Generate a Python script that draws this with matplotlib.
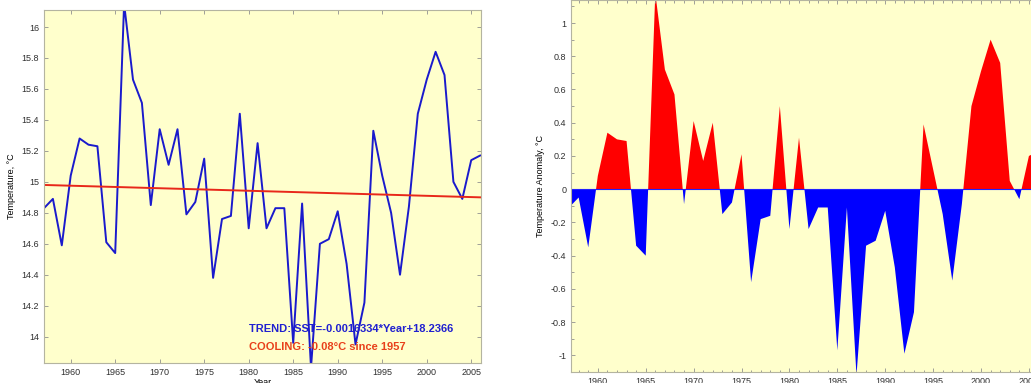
"""SST time series and anomaly panels."""

import matplotlib
matplotlib.use("Agg")
import matplotlib.pyplot as plt
import numpy as np
from matplotlib.ticker import MultipleLocator

years = list(range(1957, 2007))

sst = [14.83, 14.89, 14.59, 15.04, 15.28, 15.24, 15.23, 14.61, 14.54, 16.15,
       15.66, 15.51, 14.85, 15.34, 15.11, 15.34, 14.79, 14.87, 15.15, 14.38,
       14.76, 14.78, 15.44, 14.70, 15.25, 14.70, 14.83, 14.83, 13.96, 14.86,
       13.80, 14.60, 14.63, 14.81, 14.47, 13.95, 14.22, 15.33, 15.04, 14.80,
       14.40, 14.84, 15.44, 15.66, 15.84, 15.69, 15.00, 14.89, 15.14, 15.17]

anomaly = [-0.11, -0.05, -0.35, 0.08, 0.34, 0.30, 0.29, -0.34, -0.40, 1.18,
           0.72, 0.57, -0.09, 0.41, 0.17, 0.40, -0.15, -0.08, 0.21, -0.56,
           -0.18, -0.16, 0.50, -0.24, 0.31, -0.24, -0.11, -0.11, -0.97, -0.11,
           -1.12, -0.34, -0.31, -0.13, -0.47, -0.99, -0.74, 0.39, 0.12, -0.15,
           -0.55, -0.09, 0.50, 0.71, 0.90, 0.76, 0.05, -0.06, 0.20, 0.23]

trend_years = [1957, 2006]
trend_vals = [14.98, 14.90]

trend_text = "TREND: SST=-0.0016334*Year+18.2366"
cooling_text = "COOLING: -0.08°C since 1957"

BG = "#ffffcc"
EDGE = "#b4b4a0"
W, H = 1031, 383

plt.rcParams["font.family"] = ["Liberation Sans", "DejaVu Sans"]

fig = plt.figure(figsize=(W / 100, H / 100), dpi=100)
fig.patch.set_facecolor("white")


def style(ax):
    ax.set_facecolor(BG)
    for s in ax.spines.values():
        s.set_color(EDGE)
        s.set_linewidth(0.8)
    ax.tick_params(direction="in", which="both", top=True, right=True,
                   labelsize=6.5, colors="#303030", length=3, width=0.6)
    ax.tick_params(which="both", color="#909090")
    ax.tick_params(which="minor", length=1.8)


# --- left panel: temperature with trend
ax1 = fig.add_axes([44 / W, 1 - 363 / H, 437 / W, 353 / H])
style(ax1)
ax1.plot(years, sst, color="#1a1acc", lw=1.4)
ax1.plot(trend_years, trend_vals, color="#e8281a", lw=1.4)
ax1.set_xlim(1957, 2006.1)
ax1.set_ylim(13.83, 16.11)
ax1.set_xticks(range(1960, 2006, 5))
ax1.set_yticks(np.arange(14, 16.01, 0.2))
ax1.set_yticklabels(["14", "14.2", "14.4", "14.6", "14.8", "15",
                     "15.2", "15.4", "15.6", "15.8", "16"])
ax1.set_ylabel("Temperature, °C", fontsize=6.5, labelpad=4)
ax1.set_xlabel("Year", fontsize=6.5, labelpad=1)
ax1.text(1980.0, 14.05, trend_text, color="#2020d0", fontsize=8,
         fontweight="bold", va="center")
ax1.text(1980.0, 13.935, cooling_text, color="#e8401a", fontsize=8,
         fontweight="bold", va="center")

# --- right panel: anomaly fill
x0 = 571
px_per_year = 9.58
ylo, yhi = -1.10, 1.14
xhi = 2006.0
width_px = (xhi - 1957.2) * px_per_year
top_px = 189 - 166 * yhi
ax2 = fig.add_axes([x0 / W, 1 - 372 / H, width_px / W, (372 - top_px) / H])
style(ax2)
yr = np.array(years, dtype=float)
an = np.array(anomaly)
ax2.fill_between(yr, an, 0, where=an >= 0, interpolate=True,
                 color="#ff0000", lw=0)
ax2.fill_between(yr, an, 0, where=an <= 0, interpolate=True,
                 color="#0000ff", lw=0)
ax2.axhline(0, color="#2020ff", lw=0.8)
ax2.set_xlim(1957.2, xhi)
ax2.set_ylim(ylo, yhi)
ax2.set_xticks(range(1960, 2006, 5))
ax2.xaxis.set_minor_locator(MultipleLocator(1))
ax2.set_yticks(np.arange(-1, 1.01, 0.2))
ax2.set_yticklabels(["-1", "-0.8", "-0.6", "-0.4", "-0.2", "0",
                     "0.2", "0.4", "0.6", "0.8", "1"])
ax2.yaxis.set_minor_locator(MultipleLocator(0.1))
ax2.set_ylabel("Temperature Anomaly, °C", fontsize=6.5, labelpad=4)

fig.savefig("out.png", dpi=100, facecolor="white")
